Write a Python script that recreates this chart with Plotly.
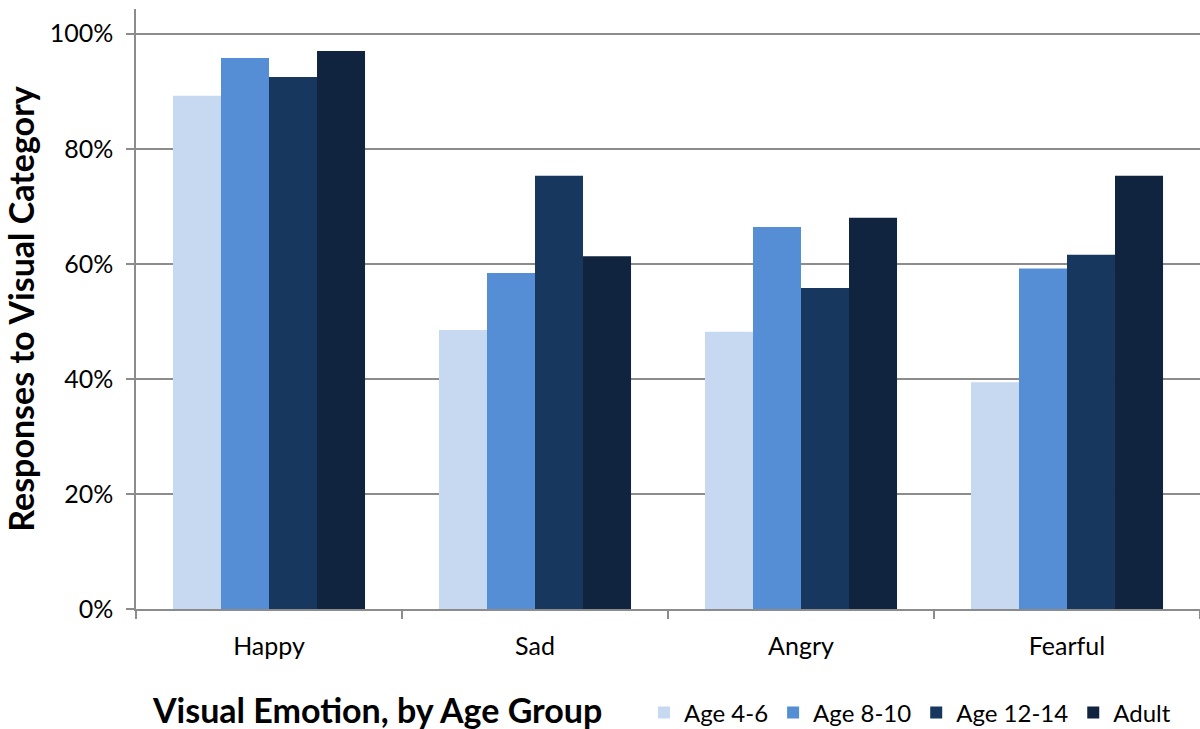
import plotly.graph_objects as go

emotions = ["Happy", "Sad", "Angry", "Fearful"]
groups = ["Age 4-6", "Age 8-10", "Age 12-14", "Adult"]
colors = ["#C6D9F1", "#558ED5", "#17375E", "#10243F"]

age_4_6 = [0.892, 0.485, 0.482, 0.394]
age_8_10 = [0.958, 0.584, 0.664, 0.592]
age_12_14 = [0.925, 0.753, 0.558, 0.616]
adult = [0.970, 0.613, 0.680, 0.753]
series = [age_4_6, age_8_10, age_12_14, adult]

y_ticks = [0, 0.2, 0.4, 0.6, 0.8, 1.0]

font_family = "Lato, 'Open Sans', sans-serif"
axis_grey = "#8C8C8C"

fig = go.Figure()
for name, vals, col in zip(groups, series, colors):
    fig.add_trace(go.Bar(
        x=emotions, y=vals, name=name,
        marker=dict(color=col, line=dict(width=0)),
    ))

fig.update_layout(
    width=1200, height=729,
    barmode="group", bargap=0.278, bargroupgap=0,
    plot_bgcolor="white", paper_bgcolor="white",
    margin=dict(l=136, r=0, t=9, b=120, autoexpand=False),
    font=dict(family=font_family, size=20, color="#000000"),
    showlegend=True,
    legend=dict(
        orientation="h", x=(644 - 136) / 1064, xanchor="left",
        y=(609 - 713) / 600, yanchor="middle",
        font=dict(size=24, color="#000000"), itemwidth=30,
        traceorder="normal",
    ),
)

fig.update_xaxes(
    showline=True, linecolor=axis_grey, linewidth=1.5,
    ticks="outside", ticklen=8, tickcolor=axis_grey, tickwidth=1.5,
    tickson="boundaries", ticklabelstandoff=14,
    tickfont=dict(size=25),
)

fig.update_yaxes(
    range=[0, 1.043], tickvals=y_ticks, tickformat=".0%",
    showline=True, linecolor=axis_grey, linewidth=1.5,
    showgrid=True, gridcolor=axis_grey, gridwidth=1.5,
    ticks="outside", ticklen=8, tickcolor=axis_grey, tickwidth=1.5,
    ticklabelstandoff=8, tickfont=dict(size=25),
    zeroline=False,
    title=dict(text="<b>Responses to Visual Category</b>",
               font=dict(size=34), standoff=14),
)

fig.add_annotation(
    text="<b>Visual Emotion, by Age Group</b>",
    xref="paper", yref="paper", x=(377 - 136) / 1064, y=(609 - 709) / 600,
    xanchor="center", yanchor="middle", showarrow=False,
    font=dict(size=34, color="#000000"),
)

fig.write_html("out.html")
